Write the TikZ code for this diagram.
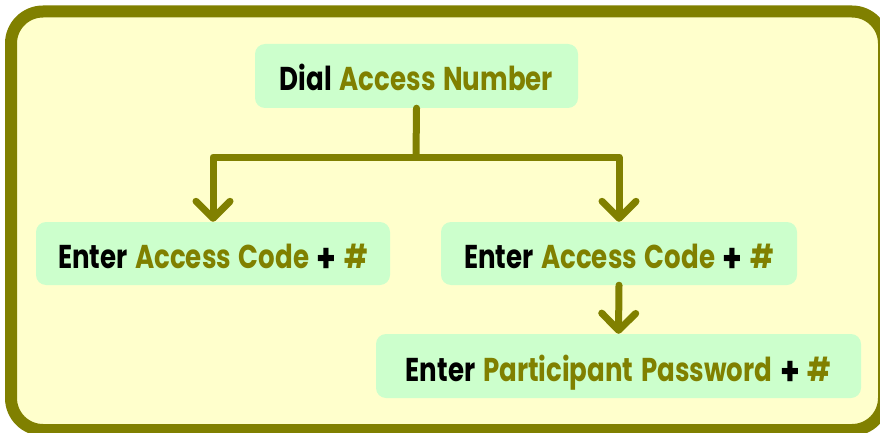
\documentclass[tikz,border=0pt]{standalone}
\usepackage{fontspec}
\setmainfont[FakeStretch=0.79, WordSpace=1.4]{Poppins}
\usetikzlibrary{arrows.meta}
\definecolor{olive}{HTML}{808000}
\definecolor{bgyellow}{HTML}{FFFFCC}
\definecolor{boxgreen}{HTML}{CCFFCC}
\tikzset{
  stepbox/.style={fill=boxgreen, rounded corners=10pt, inner sep=0pt,
    font=\fontsize{33}{36}\selectfont\bfseries, text height=30pt, text depth=0pt},
  conn/.style={draw=olive, line width=7pt, line cap=round, line join=round},
  arr/.style={conn, -{Straight Barb[length=17pt, width=34pt, round]}},
}
\newcommand{\hl}[1]{\textcolor{olive}{#1}}
\newcommand{\plusmark}{\raisebox{-4pt}[0pt][0pt]{\fontsize{40}{40}\selectfont +}}
\begin{document}
\begin{tikzpicture}[x=1pt, y=-1pt]
  \useasboundingbox (0,0) rectangle (880,433);
  \begin{scope}
    \clip (0,0) rectangle (880,433);
    \draw[draw=olive, fill=bgyellow, line width=12pt, rounded corners=32pt] (11,11.5) rectangle (884,430);
  \end{scope}
  \node[stepbox, minimum width=323pt, minimum height=64pt] (top) at (416.5,76) {Dial \hl{Access Number}};
  \node[stepbox, minimum width=354pt, minimum height=63pt] (left) at (213,253.5) {Enter \hl{Access Code} \plusmark{} \hl{\#}};
  \node[stepbox, minimum width=356pt, minimum height=63pt] (right) at (619,253.5) {Enter \hl{Access Code} \plusmark{} \hl{\#}};
  \node[stepbox, minimum width=485pt, minimum height=64pt] (bottom) at (618.5,366) {Enter \hl{Participant Password} \plusmark{} \hl{\#}};
  \coordinate (j) at (416,157);
  \draw[conn] (top.south) -- (j);
  \draw[arr] (j) -| (left.north);
  \draw[arr] (j) -| (right.north);
  \draw[arr] (right.south) -- (bottom.north);
\end{tikzpicture}
\end{document}
